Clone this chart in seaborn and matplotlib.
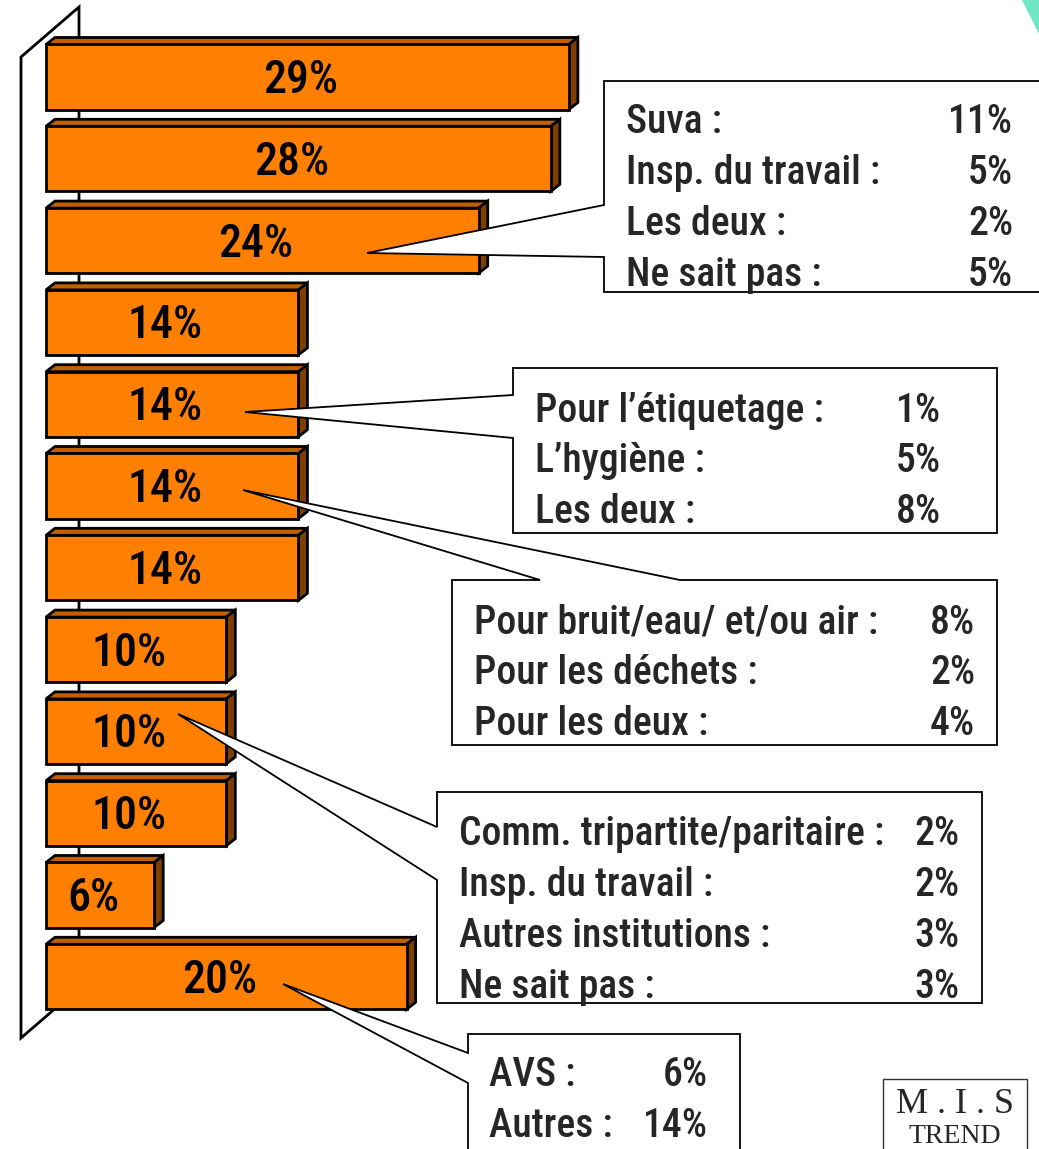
import matplotlib
matplotlib.use("Agg")
import matplotlib.pyplot as plt
import matplotlib.transforms as mtransforms
from matplotlib.patches import Polygon, Rectangle
from matplotlib import font_manager
import seaborn as sns
import pandas as pd

# ---------------- data ----------------
categories = ["r01", "r02", "r03", "r04", "r05", "r06",
              "r07", "r08", "r09", "r10", "r11", "r12"]
values = [29, 28, 24, 14, 14, 14, 14, 10, 10, 10, 6, 20]
bar_labels = ["29%", "28%", "24%", "14%", "14%", "14%",
              "14%", "10%", "10%", "10%", "6%", "20%"]

box1_labels = ["Suva :", "Insp. du travail :", "Les deux :", "Ne sait pas :"]
box1_values = ["11%", "5%", "2%", "5%"]
box2_labels = ["Pour l\u2019étiquetage :", "L\u2019hygiène :", "Les deux :"]
box2_values = ["1%", "5%", "8%"]
box3_labels = ["Pour bruit/eau/ et/ou air :", "Pour les déchets :", "Pour les deux :"]
box3_values = ["8%", "2%", "4%"]
box4_labels = ["Comm. tripartite/paritaire :", "Insp. du travail :",
               "Autres institutions :", "Ne sait pas :"]
box4_values = ["2%", "2%", "3%", "3%"]
box5_labels = ["AVS :", "Autres :"]
box5_values = ["6%", "14%"]

df = pd.DataFrame({"category": categories, "value": values})

# ---------------- style ----------------
sns.set_theme(style="white")
avail = {f.name for f in font_manager.fontManager.ttflist}
narrow = "DejaVu Sans"
for cand in ["Liberation Sans Narrow", "Roboto Condensed", "DejaVu Sans Condensed", "Liberation Sans"]:
    if cand in avail:
        narrow = cand
        break
plt.rcParams["font.family"] = [narrow, "DejaVu Sans"]
TXT_WEIGHT = "medium"

W, H = 1039, 1149
fig = plt.figure(figsize=(W / 100, H / 100), dpi=100)
fig.patch.set_facecolor("white")
ax = fig.add_axes([0, 0, 1, 1])

# pixel scale of the value axis
x0_px, px_per_unit = 46.0, 18.03
y0_px, px_per_row = 77.0, 81.8
xmin = -x0_px / px_per_unit
xmax = xmin + W / px_per_unit
ymin_top = -y0_px / px_per_row
ymax_bot = (H - y0_px) / px_per_row

FRONT = "#FF8000"
TOP = "#C26000"
SIDE = "#7F3F00"

sns.barplot(data=df, x="value", y="category", orient="h", color=FRONT,
            saturation=1, width=0.795, edgecolor="black", linewidth=2.0, ax=ax)
ax.set_xlim(xmin, xmax)
ax.set_ylim(ymax_bot, ymin_top)
ax.axis("off")

# pixel transform for decorations (origin top-left)
T = mtransforms.Affine2D().scale(1 / W, -1 / H).translate(0, 1) + fig.transFigure

# back wall
wall = Polygon([(21, 57), (79, 7), (79, 988), (21, 1038)], closed=True,
               facecolor="white", edgecolor="black", lw=2.0, transform=T, zorder=0.5)
fig.add_artist(wall)
ax.set_zorder(1)
ax.patch.set_alpha(0)

# 3D faces for each bar
ddx = 9 / px_per_unit
ddy = -7 / px_per_row
for p in ax.patches:
    bx, by, bw, bh = p.get_x(), p.get_y(), p.get_width(), p.get_height()
    p.set_zorder(3)
    p.set_joinstyle("miter")
    top = Polygon([(bx, by), (bx + ddx, by + ddy), (bx + bw + ddx, by + ddy), (bx + bw, by)],
                  closed=True, facecolor=TOP, edgecolor="black", lw=2.0, zorder=2.5,
                  joinstyle="miter")
    side = Polygon([(bx + bw, by), (bx + bw + ddx, by + ddy), (bx + bw + ddx, by + bh + ddy),
                    (bx + bw, by + bh)], closed=True, facecolor=SIDE, edgecolor="black",
                   lw=2.0, zorder=2.5, joinstyle="miter")
    ax.add_patch(top)
    ax.add_patch(side)

# bar labels
for i, (v, lab) in enumerate(zip(values, bar_labels)):
    ax.text(v / 2 - 7 / px_per_unit, i + 16 / px_per_row, lab, ha="center", va="baseline",
            fontsize=33, fontweight=TXT_WEIGHT, color="black", zorder=4)

# callouts
def callout(poly, labels, vals, xl, xr, baselines):
    fig.add_artist(Polygon(poly, closed=True, facecolor="white", edgecolor="black",
                           lw=1.3, transform=T, zorder=5))
    for lab, val, yb in zip(labels, vals, baselines):
        fig.text(xl, yb, lab, transform=T, ha="left", va="baseline", fontsize=28.5,
                 fontweight=TXT_WEIGHT, zorder=6)
        fig.text(xr, yb, val, transform=T, ha="right", va="baseline", fontsize=28.5,
                 fontweight=TXT_WEIGHT, zorder=6)

callout([(604, 81), (1050, 81), (1050, 292), (604, 292), (604, 257), (367, 253), (604, 205)],
        box1_labels, box1_values, 626, 1013, [133, 184, 235, 286])
callout([(513, 368), (997, 368), (997, 533), (513, 533), (513, 438), (245, 412), (513, 395)],
        box2_labels, box2_values, 535, 941, [422, 472, 523])
callout([(452, 580), (540, 580), (243, 490), (680, 580), (997, 580), (997, 745), (452, 745)],
        box3_labels, box3_values, 474, 975, [634, 684, 735])
callout([(437, 792), (982, 792), (982, 1003), (437, 1003), (437, 880), (178, 714), (437, 827)],
        box4_labels, box4_values, 459, 960, [845, 896, 947, 998])
callout([(468, 1034), (740, 1034), (740, 1170), (468, 1170), (468, 1083), (283, 984), (468, 1053)],
        box5_labels, box5_values, 489, 708, [1086, 1137])

# corner decoration
fig.add_artist(Polygon([(1022, 0), (1039, 0), (1039, 34)], closed=True,
                       facecolor="#70E6C3", edgecolor="none", transform=T, zorder=5))

# logo
SERIF = ["Liberation Serif", "DejaVu Serif"]
fig.add_artist(Rectangle((883, 1079), 144, 90, facecolor="white", edgecolor="#333333",
                         lw=1.0, transform=T, zorder=5))
fig.text(955, 1113, "M . I . S", transform=T, ha="center", va="baseline", fontsize=26,
         family=SERIF, zorder=6)
fig.text(955, 1143, "TREND", transform=T, ha="center", va="baseline", fontsize=20,
         family=SERIF, zorder=6)

fig.savefig("out.png", dpi=100, facecolor="white")
